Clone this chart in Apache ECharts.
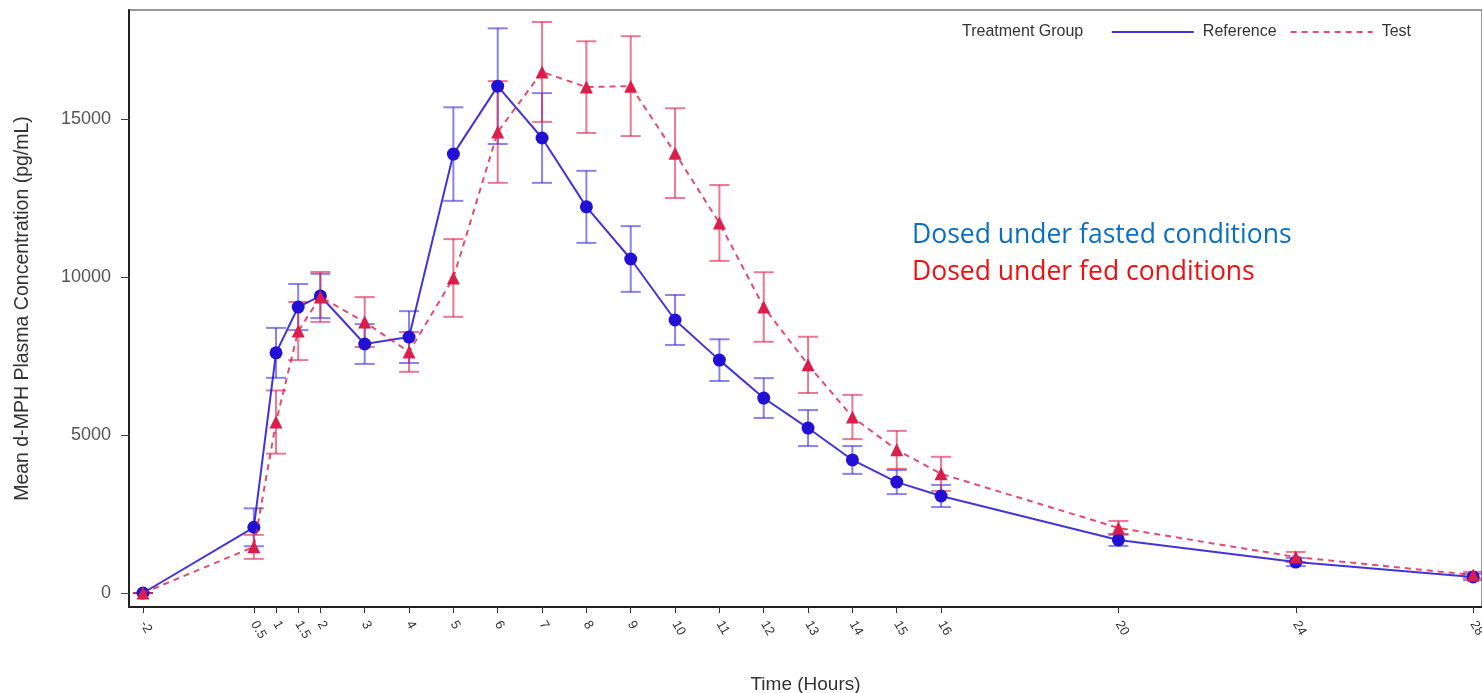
<!DOCTYPE html>
<html>
<head>
<meta charset="utf-8">
<script src="https://cdn.jsdelivr.net/npm/echarts@6/dist/echarts.min.js"></script>
<style>html,body{margin:0;padding:0;background:#fff}#c{width:1482px;height:693px}</style>
</head>
<body>
<div id="c"></div>
<script>
const times = [-2, 0.5, 1, 1.5, 2, 3, 4, 5, 6, 7, 8, 9, 10, 11, 12, 13, 14, 15, 16, 20, 24, 28];
const refMean = [0, 2080, 7600, 9050, 9400, 7880, 8100, 13890, 16040, 14400, 12220, 10570, 8640, 7370, 6170, 5220, 4210, 3510, 3070, 1680, 980, 510];
const refErr = [0, 600, 790, 730, 700, 630, 820, 1480, 1830, 1420, 1140, 1040, 790, 660, 630, 570, 440, 380, 350, 190, 130, 100];
const testMean = [0, 1460, 5410, 8290, 9370, 8575, 7630, 9970, 14590, 16490, 16010, 16040, 13920, 11710, 9050, 7220, 5570, 4530, 3770, 2060, 1140, 570];
const testErr = [0, 380, 1000, 920, 790, 790, 630, 1230, 1610, 1580, 1450, 1580, 1420, 1200, 1100, 890, 700, 600, 540, 220, 160, 100];
const xTicks = [-2, 0.5, 1, 1.5, 2, 3, 4, 5, 6, 7, 8, 9, 10, 11, 12, 13, 14, 15, 16, 20, 24, 28];
const yTicks = [0, 5000, 10000, 15000];

const BLUE = '#2211d4';
const RED = '#dc1f4a';
const FONT = 'Liberation Sans, Arial, sans-serif';

function errData(mean, err) {
  return times.map((t, i) => [t, mean[i] - err[i], mean[i] + err[i]]);
}
function errSeries(name, mean, err, color) {
  return {
    type: 'custom',
    name: name + ' err',
    data: errData(mean, err),
    z: 1,
    silent: true,
    renderItem: function (params, api) {
      const x = api.value(0);
      const lo = api.coord([x, api.value(1)]);
      const hi = api.coord([x, api.value(2)]);
      const hw = 10;
      const style = { stroke: color, lineWidth: 2, opacity: 0.6 };
      return {
        type: 'group',
        children: [
          { type: 'line', shape: { x1: lo[0], y1: lo[1], x2: hi[0], y2: hi[1] }, style: style },
          { type: 'line', shape: { x1: lo[0] - hw, y1: lo[1], x2: lo[0] + hw, y2: lo[1] }, style: style },
          { type: 'line', shape: { x1: hi[0] - hw, y1: hi[1], x2: hi[0] + hw, y2: hi[1] }, style: style }
        ]
      };
    }
  };
}

const chart = echarts.init(document.getElementById('c'), null, { renderer: 'canvas' });
chart.setOption({
  animation: false,
  backgroundColor: '#fff',
  textStyle: { fontFamily: FONT },
  grid: { left: 129, right: 0, top: 10, bottom: 86, show: true, borderColor: '#777', borderWidth: 1.5, containLabel: false, outerBoundsMode: 'none' },
  title: {
    text: 'Treatment Group',
    left: 957, top: 19,
    textStyle: { fontSize: 16, fontWeight: 'normal', color: '#333', fontFamily: FONT }
  },
  legend: {
    right: 66, top: 19,
    itemWidth: 82, itemHeight: 14, itemGap: 13,
    data: ['Reference', 'Test'],
    itemStyle: { opacity: 0 },
    textStyle: { fontSize: 16, color: '#333', fontFamily: FONT, padding: [0, 0, 0, 4] }
  },
  xAxis: {
    type: 'value',
    min: -2.316, max: 28.2,
    name: 'Time (Hours)',
    nameLocation: 'middle',
    nameGap: 68,
    nameTextStyle: { fontSize: 19, color: '#333', fontFamily: FONT },
    splitLine: { show: false },
    axisLine: { onZero: false, lineStyle: { color: '#222', width: 2 } },
    axisTick: { show: true, length: 6, customValues: xTicks, lineStyle: { color: '#333' } },
    axisLabel: {
      customValues: xTicks,
      rotate: -60,
      fontSize: 13, color: '#333', margin: 15,
      formatter: v => String(v)
    }
  },
  yAxis: {
    type: 'value',
    min: -443, max: 18450,
    name: 'Mean d-MPH Plasma Concentration (pg/mL)',
    nameLocation: 'middle',
    nameGap: 96,
    nameRotate: 90,
    nameTextStyle: { fontSize: 19.5, color: '#333', fontFamily: FONT },
    splitLine: { show: false },
    axisLine: { onZero: false, lineStyle: { color: '#222', width: 2 } },
    axisTick: { show: true, length: 8, customValues: yTicks, lineStyle: { color: '#444' } },
    axisLabel: { customValues: yTicks, fontSize: 18, color: '#555', margin: 18, formatter: v => String(v) }
  },
  graphic: [
    { type: 'text', left: 912, top: 222, style: { text: 'Dosed under fasted conditions', fill: '#0a6fc2', font: '26.5px "Open Sans", sans-serif' } },
    { type: 'text', left: 912, top: 259, style: { text: 'Dosed under fed conditions', fill: '#f01010', font: '26.5px "Open Sans", sans-serif' } }
  ],
  series: [
    errSeries('Reference', refMean, refErr, '#3a2fe0'),
    errSeries('Test', testMean, testErr, RED),
    {
      name: 'Reference', type: 'line',
      data: times.map((t, i) => [t, refMean[i]]),
      symbol: 'circle', symbolSize: 13,
      lineStyle: { color: BLUE, width: 2, opacity: 0.85 },
      itemStyle: { color: BLUE },
      z: 3
    },
    {
      name: 'Test', type: 'line',
      data: times.map((t, i) => [t, testMean[i]]),
      symbol: 'triangle', symbolSize: 13,
      lineStyle: { color: RED, width: 2, type: [6, 5], opacity: 0.8 },
      itemStyle: { color: RED },
      z: 4
    }
  ]
});
</script>
</body>
</html>
